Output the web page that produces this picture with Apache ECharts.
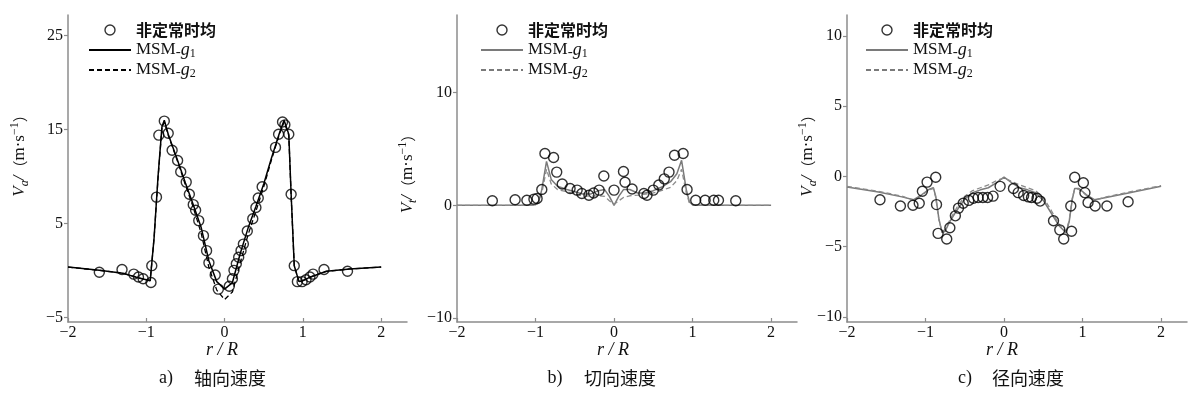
<!DOCTYPE html>
<html>
<head>
<meta charset="utf-8">
<script src="https://cdn.jsdelivr.net/npm/echarts@6/dist/echarts.min.js"></script>
<style>
  html, body { margin: 0; padding: 0; background: #fff; }
  #main { width: 1200px; height: 397px; }
</style>
</head>
<body>
<div id="main"></div>
<script>
// a) 轴向速度
var aDotR = [-1.60, -1.31, -1.16, -1.10, -1.04, -0.94, -0.93, -0.87, -0.84, -0.77, -0.72, -0.67, -0.60, -0.56, -0.49, -0.45, -0.40, -0.37, -0.33, -0.27, -0.23, -0.20, -0.12, -0.08, 0.06, 0.10, 0.12, 0.15, 0.18, 0.21, 0.24, 0.29, 0.36, 0.40, 0.43, 0.48, 0.65, 0.69, 0.74, 0.77, 0.82, 0.85, 0.89, 0.93, 0.99, 1.04, 1.09, 1.13, 1.27, 1.57];
var aDotV = [-0.2, 0.1, -0.4, -0.7, -0.9, -1.3, 0.5, 7.8, 14.4, 15.9, 14.6, 12.8, 11.7, 10.5, 9.4, 8.1, 7.0, 6.4, 5.3, 3.7, 2.1, 0.8, -0.5, -2.0, -1.7, -0.9, 0.0, 0.7, 1.4, 2.1, 2.8, 4.2, 5.5, 6.7, 7.7, 8.9, 13.1, 14.5, 15.8, 15.5, 14.5, 8.1, 0.5, -1.2, -1.2, -1.0, -0.7, -0.4, 0.1, -0.1];
var aLineR = [-2, -1.6, -1.3, -1.1, -1.0, -0.95, -0.9, -0.85, -0.8, -0.77, -0.72, -0.6, -0.5, -0.4, -0.3, -0.2, -0.1, 0, 0.1, 0.2, 0.3, 0.4, 0.5, 0.6, 0.7, 0.76, 0.82, 0.85, 0.89, 0.95, 1.0, 1.1, 1.3, 1.6, 2.0];
var aG1 = [0.35, 0.0, -0.3, -0.8, -1.0, -1.1, 3.5, 10.0, 15.3, 16.0, 14.5, 11.7, 9.3, 7.0, 4.6, 1.0, -1.2, -2.0, -1.3, 1.8, 4.5, 6.8, 9.2, 12.0, 14.6, 16.0, 14.5, 8.1, 0.5, -1.2, -1.1, -0.7, -0.1, 0.15, 0.35];
var aG2 = [0.35, 0.0, -0.3, -0.8, -1.0, -1.1, 3.5, 9.8, 15.2, 15.8, 14.4, 11.6, 9.1, 6.7, 4.0, 0.3, -2.1, -3.1, -2.3, 0.8, 3.8, 6.3, 8.9, 11.8, 14.5, 15.8, 14.4, 8.0, 0.5, -1.2, -1.1, -0.7, -0.1, 0.15, 0.35];

// b) 切向速度
var bDotR = [-1.55, -1.26, -1.11, -1.02, -0.98, -0.92, -0.88, -0.77, -0.73, -0.66, -0.56, -0.47, -0.41, -0.32, -0.26, -0.19, -0.13, 0.0, 0.12, 0.14, 0.23, 0.38, 0.42, 0.50, 0.57, 0.64, 0.70, 0.77, 0.88, 0.93, 1.04, 1.16, 1.27, 1.33, 1.55];
var bDotV = [0.4, 0.5, 0.45, 0.55, 0.6, 1.4, 4.6, 4.25, 2.95, 1.9, 1.5, 1.35, 1.05, 0.9, 1.1, 1.35, 2.6, 1.35, 3.0, 2.05, 1.45, 1.05, 0.9, 1.35, 1.8, 2.35, 2.95, 4.45, 4.6, 1.4, 0.45, 0.45, 0.45, 0.45, 0.4];
var bLineR = [-2, -1.5, -1.1, -1.0, -0.96, -0.92, -0.86, -0.8, -0.72, -0.6, -0.5, -0.4, -0.3, -0.2, -0.12, -0.06, 0, 0.06, 0.12, 0.2, 0.3, 0.4, 0.5, 0.6, 0.72, 0.8, 0.86, 0.92, 0.96, 1.0, 1.1, 1.5, 2.0];
var bG1 = [0, 0, 0, 0.05, 0.3, 1.4, 3.9, 2.3, 1.7, 1.4, 1.2, 1.0, 1.0, 1.3, 1.4, 0.8, 0, 0.8, 1.4, 1.4, 1.1, 1.1, 1.3, 1.6, 2.1, 2.8, 4.0, 1.4, 0.3, 0.05, 0, 0, 0];
var bG2 = [0, 0, 0, 0.03, 0.2, 1.1, 3.2, 1.9, 1.4, 1.2, 1.0, 0.85, 0.8, 0.85, 0.8, 0.4, 0.1, 0.4, 0.7, 0.85, 0.9, 1.0, 1.1, 1.3, 1.6, 2.2, 3.2, 1.1, 0.2, 0.03, 0, 0, 0];

// c) 径向速度
var cDotR = [-1.58, -1.32, -1.16, -1.08, -1.04, -0.98, -0.87, -0.86, -0.84, -0.73, -0.69, -0.62, -0.58, -0.52, -0.45, -0.39, -0.33, -0.27, -0.21, -0.14, -0.05, 0.12, 0.18, 0.25, 0.31, 0.35, 0.42, 0.46, 0.63, 0.71, 0.76, 0.86, 0.85, 0.90, 1.01, 1.03, 1.07, 1.16, 1.31, 1.58];
var cDotV = [-1.65, -2.1, -2.05, -1.9, -1.05, -0.4, -0.05, -2.0, -4.05, -4.45, -3.65, -2.8, -2.25, -1.9, -1.7, -1.55, -1.5, -1.5, -1.5, -1.4, -0.7, -0.85, -1.15, -1.35, -1.45, -1.5, -1.55, -1.75, -3.15, -3.8, -4.45, -3.9, -2.1, -0.05, -0.45, -1.15, -1.85, -2.1, -2.1, -1.8];
var cLineR = [-2, -1.6, -1.3, -1.15, -1.05, -0.95, -0.9, -0.87, -0.83, -0.79, -0.75, -0.7, -0.6, -0.5, -0.4, -0.3, -0.2, -0.1, 0, 0.1, 0.2, 0.3, 0.4, 0.5, 0.6, 0.7, 0.79, 0.83, 0.87, 0.9, 0.95, 1.05, 1.15, 1.3, 1.6, 2.0];
var cG1 = [-0.75, -1.1, -1.45, -1.65, -1.3, -0.9, -0.8, -1.4, -3.0, -4.0, -3.9, -3.3, -2.4, -1.6, -1.15, -0.95, -0.8, -0.45, -0.05, -0.45, -0.8, -0.95, -1.15, -1.7, -2.6, -3.5, -4.0, -3.2, -1.6, -0.85, -0.85, -1.3, -1.65, -1.5, -1.15, -0.7];
var cG2 = [-0.7, -1.05, -1.4, -1.7, -1.35, -0.95, -0.85, -1.5, -3.1, -3.9, -3.8, -3.2, -2.2, -1.4, -1.0, -0.8, -0.6, -0.3, -0.1, -0.35, -0.6, -0.8, -1.0, -1.5, -2.4, -3.4, -3.9, -3.1, -1.5, -0.9, -0.9, -1.35, -1.7, -1.45, -1.1, -0.65];

var xTicks = [-2, -1, 0, 1, 2];
var aYTicks = [-5, 5, 15, 25];
var bYTicks = [-10, 0, 10];
var cYTicks = [-10, -5, 0, 5, 10];

var SERIF = '"Liberation Serif", "DejaVu Serif", serif';
var CJK = '"Noto Sans CJK SC", sans-serif';
var AXIS = '#8c8c8c';

function pairs(xs, ys) {
  return xs.map(function (x, i) { return [x, ys[i]]; });
}
function minus(v) {
  return v < 0 ? '\u2212' + Math.abs(v) : String(v);
}

function xAxisOf(idx) {
  return {
    gridIndex: idx, type: 'value', min: -2, max: 2.33,
    axisLine: { onZero: false, lineStyle: { color: AXIS, width: 1.5 } },
    axisTick: { inside: true, length: 4, customValues: xTicks, lineStyle: { color: AXIS, width: 1.2 } },
    axisLabel: { customValues: xTicks, formatter: minus, color: '#111', fontFamily: SERIF, fontSize: 16, margin: 3 },
    splitLine: { show: false }
  };
}
function yAxisOf(idx, min, max, ticks) {
  return {
    gridIndex: idx, type: 'value', min: min, max: max,
    axisLine: { onZero: false, lineStyle: { color: AXIS, width: 1.5 } },
    axisTick: { inside: false, length: 4, customValues: ticks, lineStyle: { color: AXIS, width: 1.2 } },
    axisLabel: { customValues: ticks, formatter: minus, color: '#111', fontFamily: SERIF, fontSize: 16, margin: 5 },
    splitLine: { show: false }
  };
}

function dots(idx, r, v) {
  return {
    name: '非定常时均', type: 'scatter', xAxisIndex: idx, yAxisIndex: idx,
    symbol: 'circle', symbolSize: 10,
    itemStyle: { color: 'rgba(0,0,0,0)', borderColor: '#000', borderWidth: 1.4 },
    data: pairs(r, v), z: 3
  };
}
function curve(idx, name, r, v, color, dashed) {
  return {
    name: name, type: 'line', xAxisIndex: idx, yAxisIndex: idx,
    symbol: 'none', smooth: false,
    itemStyle: { color: color },
    lineStyle: { color: color, width: dashed ? 1.3 : 1.5, type: dashed ? [5, 3] : 'solid' },
    data: pairs(r, v), z: 2
  };
}

var legendRich = {
  c: { fontFamily: CJK, fontSize: 16, fontWeight: 'bold', color: '#111', lineHeight: 20 },
  n: { fontFamily: SERIF, fontSize: 17, color: '#111', lineHeight: 20 },
  u: { fontFamily: SERIF, fontSize: 15, color: '#111', lineHeight: 14, verticalAlign: 'bottom' },
  g: { fontFamily: SERIF, fontSize: 18, fontStyle: 'italic', color: '#111', lineHeight: 20 },
  s: { fontFamily: SERIF, fontSize: 12, color: '#111', lineHeight: 12, verticalAlign: 'bottom' }
};
function legendOf(left, top, lineColor) {
  var noSymbol = { opacity: 0, color: 'rgba(0,0,0,0)', borderWidth: 0 };
  return {
    orient: 'vertical', left: left, top: top,
    itemWidth: 42, itemHeight: 10, itemGap: 0,
    selectedMode: false,
    data: [
      { name: '非定常时均', itemStyle: { borderColor: '#000', borderWidth: 1.4 } },
      { name: 'MSM_g1', itemStyle: noSymbol, lineStyle: { color: lineColor } },
      { name: 'MSM_g2', itemStyle: noSymbol, lineStyle: { color: lineColor } }
    ],
    formatter: function (name) {
      if (name === 'MSM_g1') return '{n|MSM}{u|-}{g|g}{s|1}';
      if (name === 'MSM_g2') return '{n|MSM}{u|-}{g|g}{s|2}';
      return '{c|' + name + '}';
    },
    textStyle: { lineHeight: 20, rich: legendRich }
  };
}

var yNameRich = {
  v: { fontFamily: SERIF, fontSize: 17, fontStyle: 'italic', fill: '#111', lineHeight: 22 },
  b: { fontFamily: SERIF, fontSize: 12, fontStyle: 'italic', fill: '#111', lineHeight: 12, verticalAlign: 'bottom' },
  p: { fontFamily: CJK, fontSize: 15, fill: '#111', lineHeight: 22 },
  m: { fontFamily: SERIF, fontSize: 17, fill: '#111', lineHeight: 22 },
  e: { fontFamily: SERIF, fontSize: 12, fill: '#111', lineHeight: 12, verticalAlign: 'top' }
};
function yName(x, y, sub) {
  return {
    type: 'text', x: x, y: y, rotation: Math.PI / 2,
    style: {
      text: '{v|V}{b|' + sub + '}{v|/}{p|（}{m|m·s}{e|\u22121}{p|）}',
      rich: yNameRich, align: 'center', verticalAlign: 'middle', textAlign: 'center', textVerticalAlign: 'middle'
    }
  };
}
function plainText(x, y, text, font, italic) {
  return {
    type: 'text', x: x, y: y,
    style: {
      text: text, fill: '#111', fontFamily: font, fontSize: 18, fontStyle: italic ? 'italic' : 'normal',
      align: 'center', verticalAlign: 'middle', textAlign: 'center', textVerticalAlign: 'middle'
    }
  };
}

var chart = echarts.init(document.getElementById('main'), null, { renderer: 'canvas' });

var option = {
  backgroundColor: '#fff',
  animation: false,
  grid: [
    { left: 68, top: 15, width: 339, height: 307 },
    { left: 457, top: 15, width: 340, height: 307 },
    { left: 847, top: 15, width: 340, height: 307 }
  ],
  xAxis: [xAxisOf(0), xAxisOf(1), xAxisOf(2)],
  yAxis: [
    yAxisOf(0, -5.5, 27.2, aYTicks),
    yAxisOf(1, -10.36, 16.9, bYTicks),
    yAxisOf(2, -10.36, 11.5, cYTicks)
  ],
  legend: [
    legendOf(83, 15, '#000'),
    legendOf(475, 15, '#7a7a7a'),
    legendOf(860, 15, '#7a7a7a')
  ],
  series: [
    dots(0, aDotR, aDotV),
    curve(0, 'MSM_g1', aLineR, aG1, '#000', false),
    curve(0, 'MSM_g2', aLineR, aG2, '#000', true),
    dots(1, bDotR, bDotV),
    curve(1, 'MSM_g1', bLineR, bG1, '#7a7a7a', false),
    curve(1, 'MSM_g2', bLineR, bG2, '#8a8a8a', true),
    dots(2, cDotR, cDotV),
    curve(2, 'MSM_g1', cLineR, cG1, '#7a7a7a', false),
    curve(2, 'MSM_g2', cLineR, cG2, '#8a8a8a', true)
  ],
  graphic: [
    yName(20, 152, 'a'),
    yName(408, 170, 't'),
    yName(808, 152, 'a'),
    plainText(222, 350, 'r / R', SERIF, true),
    plainText(613, 350, 'r / R', SERIF, true),
    plainText(1002, 350, 'r / R', SERIF, true),
    plainText(166, 378, 'a)', SERIF, false),
    plainText(230, 378, '轴向速度', CJK, false),
    plainText(555, 378, 'b)', SERIF, false),
    plainText(620, 378, '切向速度', CJK, false),
    plainText(965, 378, 'c)', SERIF, false),
    plainText(1028, 378, '径向速度', CJK, false)
  ]
};

chart.setOption(option);
</script>
</body>
</html>
